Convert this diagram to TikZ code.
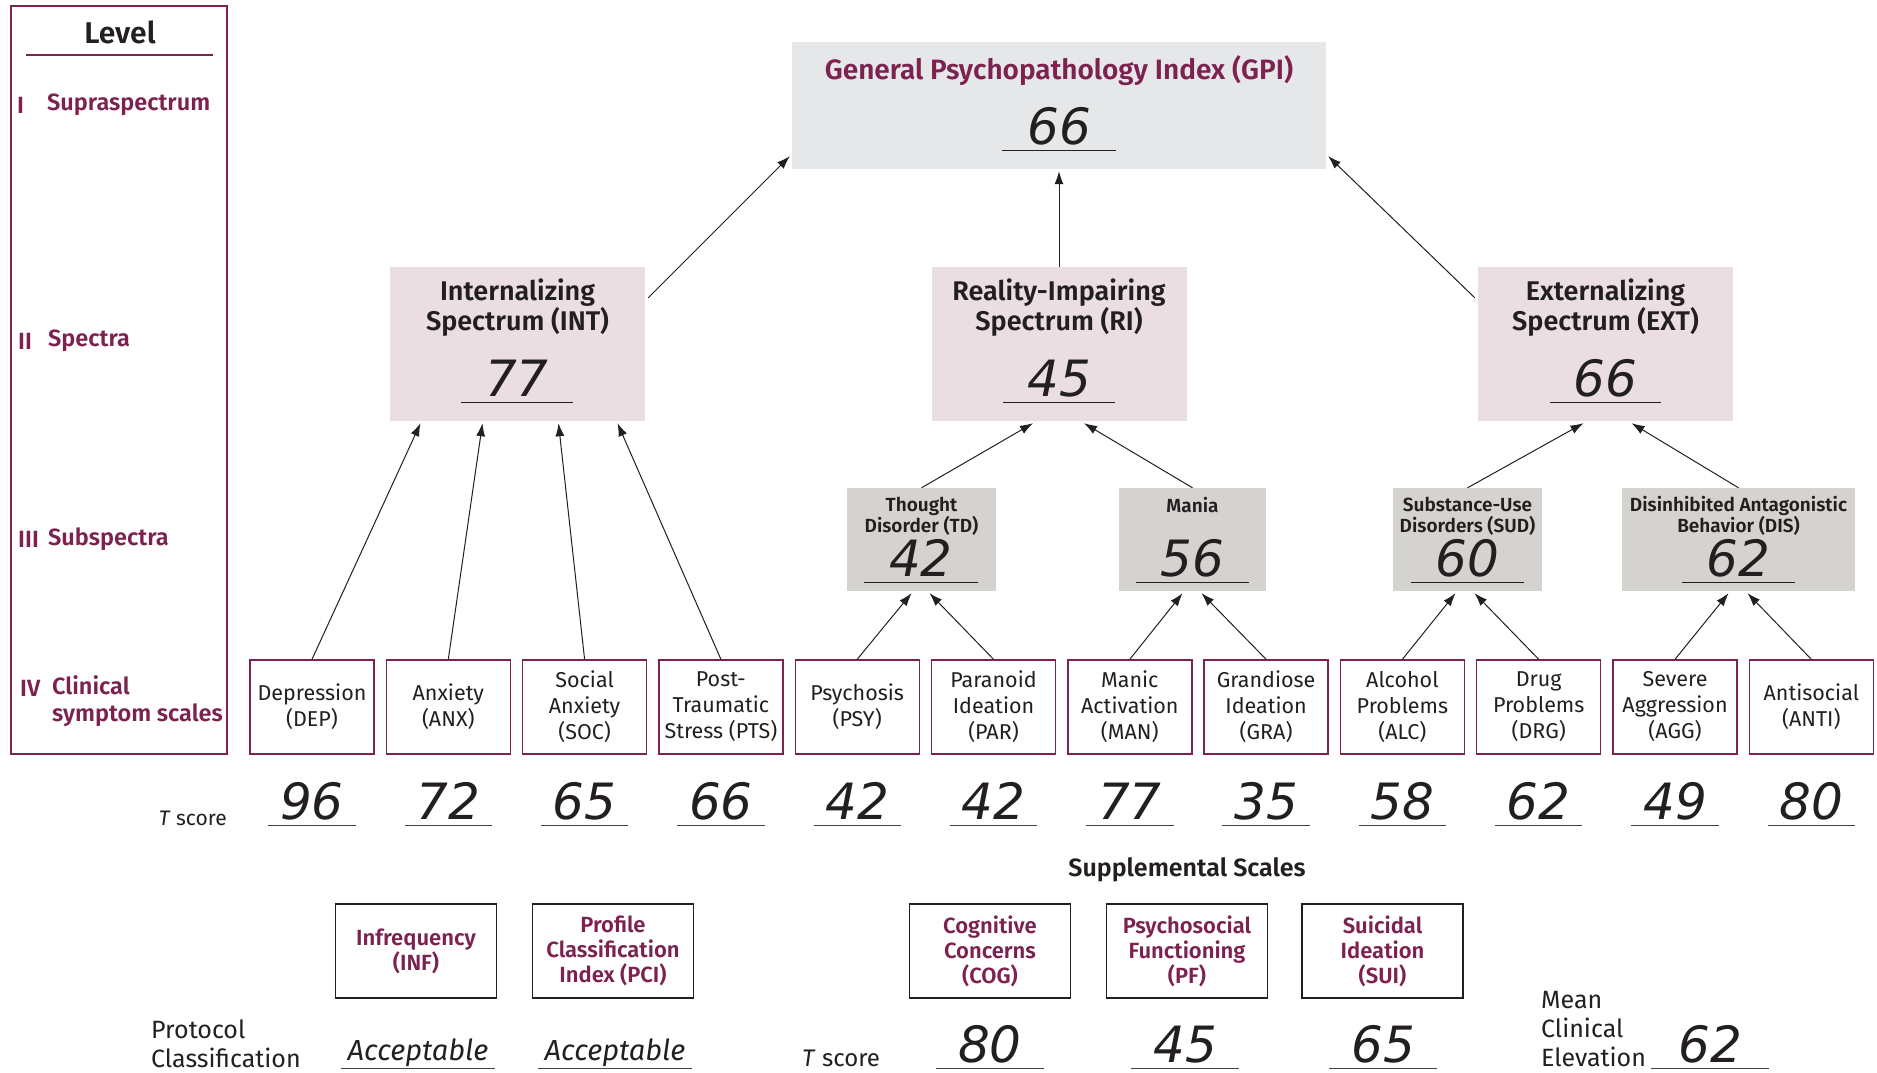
\documentclass[tikz,border=0pt]{standalone}
\usepackage{fontspec}
\setmainfont{Fira Sans}[BoldFont={Fira Sans SemiBold}]
\newfontfamily\handfont{DejaVu Sans}
\usetikzlibrary{arrows.meta}

\definecolor{plum}{HTML}{7D2250}
\definecolor{ink}{HTML}{231F20}
\definecolor{gpifill}{HTML}{E6E7E8}
\definecolor{specfill}{HTML}{EBDEE2}
\definecolor{subfill}{HTML}{D4D3CF}

\tikzset{
    gpibox/.style={fill=gpifill, minimum width=534pt, minimum height=127pt, inner sep=0pt},
    specbox/.style={fill=specfill, minimum width=255pt, minimum height=154pt, inner sep=0pt},
    subbox/.style={fill=subfill, minimum height=103pt, inner sep=0pt},
    clinbox/.style={draw=plum, line width=1.4pt, minimum width=124pt, minimum height=94pt, inner sep=0pt,
        align=center, text=ink, font=\fontsize{21.5}{26}\selectfont},
    suppbox/.style={draw=ink, line width=1.4pt, minimum width=161pt, minimum height=94pt, inner sep=0pt,
        align=center, text=plum, font=\bfseries\fontsize{22}{25}\selectfont},
    spectitle/.style={inner sep=0pt, align=center, text=ink, font=\bfseries\fontsize{27}{29}\selectfont},
    subtitle/.style={inner sep=0pt, align=center, text=ink, font=\bfseries\fontsize{19}{21}\selectfont},
    num/.style={inner sep=0pt, text height=36pt, text depth=6pt, text=ink, font=\handfont\itshape\fontsize{50}{50}\selectfont},
    acc/.style={inner sep=0pt, minimum width=153pt, text height=30pt, text depth=8pt, text=ink,
        font=\itshape\fontsize{29}{29}\selectfont},
    lvl/.style={inner sep=0pt, anchor=west, align=left, text=plum, font=\bfseries\fontsize{23.5}{27}\selectfont},
    side/.style={inner sep=0pt, align=left, text=ink, font=\fontsize{25}{29}\selectfont},
    uline/.style={line width=1.2pt, draw=ink!85},
    arr/.style={-{Latex[length=13pt,width=9pt]}, line width=1pt, draw=ink}
}

\begin{document}
\begin{tikzpicture}[x=1pt,y=-1pt]
    \useasboundingbox (0,0) rectangle (1877,1072);

    \draw[plum, line width=1.4pt] (11,6) rectangle (227,754);
    \node[inner sep=0pt, text=ink, font=\bfseries\fontsize{30}{32}\selectfont] (lvltitle) at (120,32) {Level};
    \draw[plum, line width=1.2pt] (26,55) -- (213,55);

    \node[lvl] (lvlone) at (17,105) {I};
    \node[lvl] (supra) at (47,105) {Supraspectrum};
    \node[lvl] (lvltwo) at (18,341) {II};
    \node[lvl] (spectra) at (48,341) {Spectra};
    \node[lvl] (lvlthree) at (18,539) {III};
    \node[lvl] (subspectra) at (48,539) {Subspectra};
    \node[lvl] (lvlfour) at (20,688) {IV};
    \node[lvl] (clinical) at (52,701.5) {Clinical\\symptom scales};

    \node[gpibox] (gpi) at (1059,105.5) {};
    \node[inner sep=0pt, text=plum, font=\bfseries\fontsize{28}{30}\selectfont] (gpititle) at (1059,71) {General Psychopathology Index (GPI)};
    \node[num, minimum width=113pt] (gpinum) at (1059,129.5) {66};
    \draw[uline, draw=ink] (gpinum.south west) -- (gpinum.south east);

    \node[specbox] (int) at (517.5,344) {};
    \node[spectitle] (inttitle) at (517.5,308) {Internalizing\\Spectrum (INT)};
    \node[num, minimum width=111pt] (intnum) at (517,381) {77};
    \draw[uline, draw=ink] (intnum.south west) -- (intnum.south east);

    \node[specbox] (ri) at (1059,344) {};
    \node[spectitle] (rititle) at (1059,308) {Reality-Impairing\\Spectrum (RI)};
    \node[num, minimum width=111pt] (rinum) at (1059,381) {45};
    \draw[uline, draw=ink] (rinum.south west) -- (rinum.south east);

    \node[specbox] (ext) at (1605.5,344) {};
    \node[spectitle] (exttitle) at (1605.5,308) {Externalizing\\Spectrum (EXT)};
    \node[num, minimum width=111pt] (extnum) at (1605.5,381) {66};
    \draw[uline, draw=ink] (extnum.south west) -- (extnum.south east);

    \node[subbox, minimum width=149pt] (td) at (921.5,539.5) {};
    \node[subtitle] (tdtitle) at (921.5,516) {Thought\\Disorder (TD)};
    \node[num, minimum width=113pt] (tdnum) at (921,561) {42};
    \draw[uline, draw=ink] (tdnum.south west) -- (tdnum.south east);

    \node[subbox, minimum width=147pt] (mania) at (1192.5,539.5) {};
    \node[subtitle] (maniatitle) at (1192.5,505) {Mania};
    \node[num, minimum width=113pt] (manianum) at (1192.5,561) {56};
    \draw[uline, draw=ink] (manianum.south west) -- (manianum.south east);

    \node[subbox, minimum width=149pt] (sud) at (1467.5,539.5) {};
    \node[subtitle] (sudtitle) at (1467.5,516) {Substance-Use\\Disorders (SUD)};
    \node[num, minimum width=113pt] (sudnum) at (1467.5,561) {60};
    \draw[uline, draw=ink] (sudnum.south west) -- (sudnum.south east);

    \node[subbox, minimum width=233pt] (dis) at (1738.5,539.5) {};
    \node[subtitle] (distitle) at (1738.5,516) {Disinhibited Antagonistic\\Behavior (DIS)};
    \node[num, minimum width=113pt] (disnum) at (1738.5,561) {62};
    \draw[uline, draw=ink] (disnum.south west) -- (disnum.south east);

    \node[clinbox] (dep) at (312,707) {Depression\\(DEP)};
    \node[clinbox] (anx) at (448.3,707) {Anxiety\\(ANX)};
    \node[clinbox] (soc) at (584.6,707) {Social\\Anxiety\\(SOC)};
    \node[clinbox] (pts) at (720.9,707) {Post-\\Traumatic\\Stress (PTS)};
    \node[clinbox] (psy) at (857.2,707) {Psychosis\\(PSY)};
    \node[clinbox] (par) at (993.5,707) {Paranoid\\Ideation\\(PAR)};
    \node[clinbox] (man) at (1129.8,707) {Manic\\Activation\\(MAN)};
    \node[clinbox] (gra) at (1266.1,707) {Grandiose\\Ideation\\(GRA)};
    \node[clinbox] (alc) at (1402.4,707) {Alcohol\\Problems\\(ALC)};
    \node[clinbox] (drg) at (1538.7,707) {Drug\\Problems\\(DRG)};
    \node[clinbox] (agg) at (1675,707) {Severe\\Aggression\\(AGG)};
    \node[clinbox] (anti) at (1811.3,707) {Antisocial\\(ANTI)};

    \node[side, anchor=east, font=\fontsize{21}{25}\selectfont] (tscore) at (227,818) {\textit{T} score};

    \node[num, minimum width=87pt] (depnum) at (312,804) {96};
    \node[num, minimum width=87pt] (anxnum) at (448.3,804) {72};
    \node[num, minimum width=87pt] (socnum) at (584.6,804) {65};
    \node[num, minimum width=87pt] (ptsnum) at (720.9,804) {66};
    \node[num, minimum width=87pt] (psynum) at (857.2,804) {42};
    \node[num, minimum width=87pt] (parnum) at (993.5,804) {42};
    \node[num, minimum width=87pt] (mannum) at (1129.8,804) {77};
    \node[num, minimum width=87pt] (granum) at (1266.1,804) {35};
    \node[num, minimum width=87pt] (alcnum) at (1402.4,804) {58};
    \node[num, minimum width=87pt] (drgnum) at (1538.7,804) {62};
    \node[num, minimum width=87pt] (aggnum) at (1675,804) {49};
    \node[num, minimum width=87pt] (antinum) at (1811.3,804) {80};

    \draw[uline] (depnum.south west) -- (depnum.south east);
    \draw[uline] (anxnum.south west) -- (anxnum.south east);
    \draw[uline] (socnum.south west) -- (socnum.south east);
    \draw[uline] (ptsnum.south west) -- (ptsnum.south east);
    \draw[uline] (psynum.south west) -- (psynum.south east);
    \draw[uline] (parnum.south west) -- (parnum.south east);
    \draw[uline] (mannum.south west) -- (mannum.south east);
    \draw[uline] (granum.south west) -- (granum.south east);
    \draw[uline] (alcnum.south west) -- (alcnum.south east);
    \draw[uline] (drgnum.south west) -- (drgnum.south east);
    \draw[uline] (aggnum.south west) -- (aggnum.south east);
    \draw[uline] (antinum.south west) -- (antinum.south east);

    \draw[arr] ([xshift=3pt,yshift=-31pt]int.north east) -- ([xshift=-2pt,yshift=13pt]gpi.south west);
    \draw[arr] (ri.north) -- ([yshift=-2pt]gpi.south);
    \draw[arr] ([xshift=-3pt,yshift=-31pt]ext.north west) -- ([xshift=2pt,yshift=13pt]gpi.south east);

    \draw[arr] (dep.north) -- ([xshift=-97pt,yshift=-2pt]int.south);
    \draw[arr] (anx.north) -- ([xshift=-35pt,yshift=-2pt]int.south);
    \draw[arr] (soc.north) -- ([xshift=41pt,yshift=-2pt]int.south);
    \draw[arr] (pts.north) -- ([xshift=100pt,yshift=-2pt]int.south);

    \draw[arr] (td.north) -- ([xshift=-26pt,yshift=-2pt]ri.south);
    \draw[arr] (mania.north) -- ([xshift=25pt,yshift=-2pt]ri.south);
    \draw[arr] (sud.north) -- ([xshift=-22pt,yshift=-2pt]ext.south);
    \draw[arr] (dis.north) -- ([xshift=26pt,yshift=-2pt]ext.south);

    \draw[arr] (psy.north) -- ([xshift=-10pt,yshift=-2pt]td.south);
    \draw[arr] (par.north) -- ([xshift=8pt,yshift=-2pt]td.south);
    \draw[arr] (man.north) -- ([xshift=-10pt,yshift=-2pt]mania.south);
    \draw[arr] (gra.north) -- ([xshift=9pt,yshift=-2pt]mania.south);
    \draw[arr] (alc.north) -- ([xshift=-12pt,yshift=-2pt]sud.south);
    \draw[arr] (drg.north) -- ([xshift=7pt,yshift=-2pt]sud.south);
    \draw[arr] (agg.north) -- ([xshift=-10pt,yshift=-2pt]dis.south);
    \draw[arr] (anti.north) -- ([xshift=9pt,yshift=-2pt]dis.south);

    \node[inner sep=0pt, text=ink, font=\bfseries\fontsize{25}{28}\selectfont] (supptitle) at (1187,870) {Supplemental Scales};

    \node[suppbox] (inf) at (416,951) {Infrequency\\(INF)};
    \node[suppbox] (pci) at (613,951) {Profile\\Classification\\Index (PCI)};
    \node[suppbox] (cog) at (990,951) {Cognitive\\Concerns\\(COG)};
    \node[suppbox] (pf) at (1187,951) {Psychosocial\\Functioning\\(PF)};
    \node[suppbox] (sui) at (1382.5,951) {Suicidal\\Ideation\\(SUI)};

    \node[side, anchor=west] (protocol) at (151,1043.5) {Protocol\\Classification};
    \node[acc] (infval) at (418,1049) {Acceptable};
    \node[acc] (pcival) at (615,1049) {Acceptable};
    \draw[uline] (infval.south west) -- (infval.south east);
    \draw[uline] (pcival.south west) -- (pcival.south east);

    \node[side, anchor=west, font=\fontsize{24}{29}\selectfont] (tscoresupp) at (802,1058) {\textit{T} score};
    \node[num, minimum width=107pt] (cognum) at (990,1047) {80};
    \node[num, minimum width=107pt] (pfnum) at (1185,1047) {45};
    \node[num, minimum width=107pt] (suinum) at (1383,1047) {65};
    \draw[uline] (cognum.south west) -- (cognum.south east);
    \draw[uline] (pfnum.south west) -- (pfnum.south east);
    \draw[uline] (suinum.south west) -- (suinum.south east);

    \node[side, anchor=west] (mce) at (1541,1029) {Mean\\Clinical\\Elevation};
    \node[num, minimum width=117pt] (mcenum) at (1710,1047) {62};
    \draw[uline] (mcenum.south west) -- (mcenum.south east);
\end{tikzpicture}
\end{document}
